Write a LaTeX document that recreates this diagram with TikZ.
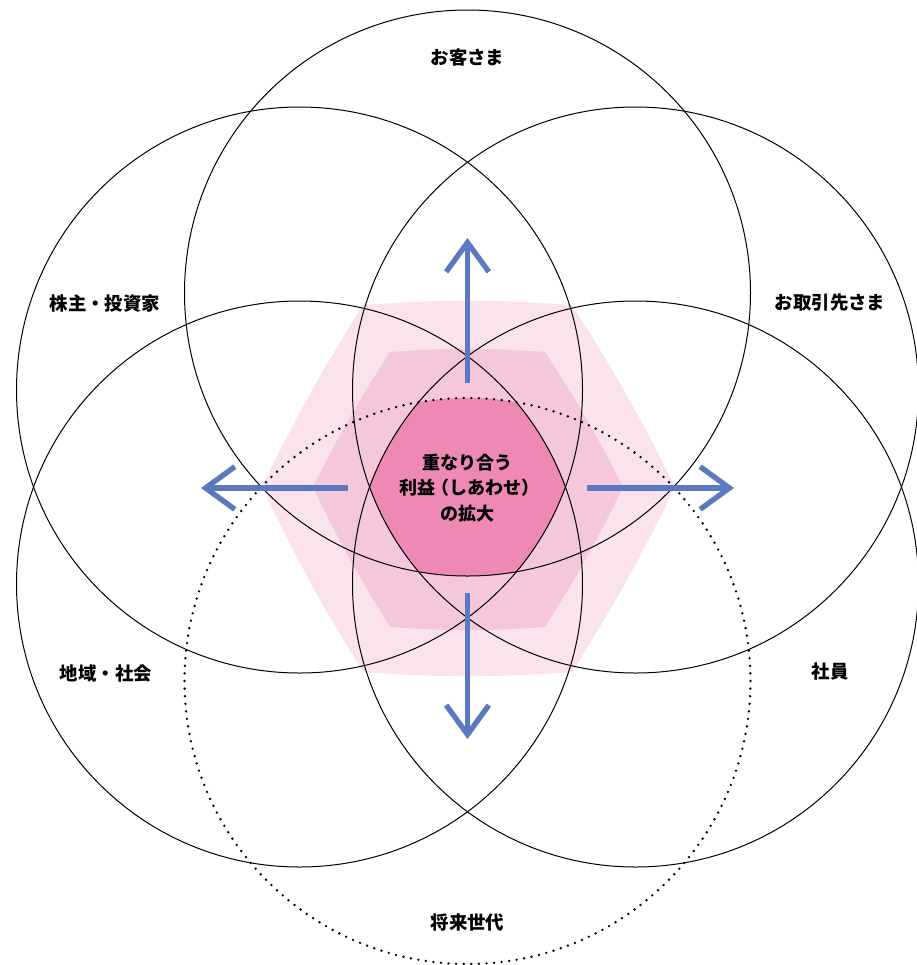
\documentclass[tikz,border=0pt]{standalone}
\usepackage{fontspec}
\setmainfont{Noto Sans CJK JP}
\usetikzlibrary{arrows.meta}
\definecolor{hexOuter}{HTML}{FAE3EC}
\definecolor{hexMiddle}{HTML}{F5C7DA}
\definecolor{hexCore}{HTML}{EE88B5}
\definecolor{arrBlue}{HTML}{5A79C1}

\begin{document}
\begin{tikzpicture}[
      x=0.75pt, y=-0.75pt,
      ring/.style={draw=black, line width=0.75pt},
      dotring/.style={draw=black, line width=2pt, line cap=round,
        dash pattern=on 0pt off 5.7pt},
      tag/.style={font=\fontsize{13.8pt}{16pt}\selectfont\bfseries, inner sep=0pt},
      core/.style={font=\fontsize{13.5pt}{19pt}\selectfont\bfseries, align=center, inner sep=0pt},
      arr/.style={-{Straight Barb[length=22pt,width=32pt]}, line width=4pt, draw=arrBlue}
    ]
    \useasboundingbox (0,0) rectangle (917,965);

    % circle centres
    \coordinate (cust) at (467.5,293);
    \coordinate (share) at (299.5,390);
    \coordinate (partner) at (635.5,390);
    \coordinate (comm) at (299.5,584);
    \coordinate (staff) at (635.5,584);
    \coordinate (future) at (467.5,681);

    % pink hexagons
    \fill[hexOuter] (363,305) to[bend left=4] (572,305) to[bend left=3] (675,487)
      to[bend left=3] (572,672) to[bend left=4] (363,672) to[bend left=3] (262,487)
      to[bend left=3] cycle;
    \fill[hexMiddle] (390,352) to[bend left=4] (545,352) to[bend left=3] (623,487)
      to[bend left=3] (545,627) to[bend left=4] (390,627) to[bend left=3] (313,487)
      to[bend left=3] cycle;

    % overlap of all six circles
    \begin{scope}
      \clip (cust) circle (283);
      \clip (share) circle (283);
      \clip (partner) circle (283);
      \clip (comm) circle (283);
      \clip (staff) circle (283);
      \clip (future) circle (283);
      \fill[hexCore] (300,380) rectangle (640,600);
    \end{scope}

    \draw[ring] (cust) circle (283);
    \draw[ring] (share) circle (283);
    \draw[ring] (partner) circle (283);
    \draw[ring] (comm) circle (283);
    \draw[ring] (staff) circle (283);
    \draw[dotring] (future) circle (283);

    % arrows
    \coordinate (upS) at (467.5,383);
    \coordinate (upE) at (467.5,238);
    \coordinate (downS) at (467.5,593);
    \coordinate (downE) at (467.5,739);
    \coordinate (leftS) at (348,488);
    \coordinate (leftE) at (201,488);
    \coordinate (rightS) at (587,488);
    \coordinate (rightE) at (734,488);
    \draw[arr] (upS) -- (upE);
    \draw[arr] (downS) -- (downE);
    \draw[arr] (leftS) -- (leftE);
    \draw[arr] (rightS) -- (rightE);

    % labels
    \node[tag] (custL) at (467.5,58) {お客さま};
    \node[tag] (shareL) at (105,303) {株主・投資家};
    \node[tag] (partnerL) at (830,303) {お取引先さま};
    \node[tag] (commL) at (106,673) {地域・社会};
    \node[tag] (staffL) at (830,672) {社員};
    \node[tag] (futureL) at (467.5,922) {将来世代};
    \node[core] (centre) at (467.5,488) {重なり合う\\利益\kern-3pt（しあわせ）\kern-3pt\\の拡大};
    \end{tikzpicture}
\end{document}
